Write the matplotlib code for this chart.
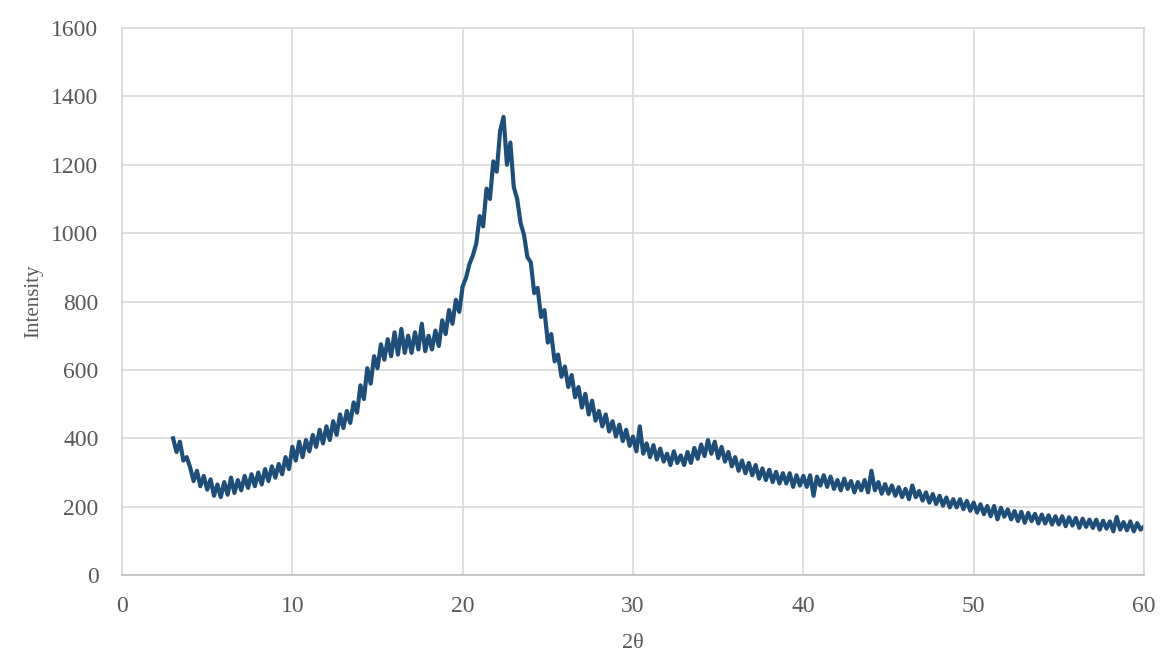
import matplotlib
matplotlib.use("Agg")
import matplotlib.pyplot as plt

# scan angles (2theta), 0.2 deg step
two_theta = [
    3.0, 3.2, 3.4, 3.6, 3.8, 4.0, 4.2, 4.4, 4.6, 4.8,
    5.0, 5.2, 5.4, 5.6, 5.8, 6.0, 6.2, 6.4, 6.6, 6.8,
    7.0, 7.2, 7.4, 7.6, 7.8, 8.0, 8.2, 8.4, 8.6, 8.8,
    9.0, 9.2, 9.4, 9.6, 9.8, 10.0, 10.2, 10.4, 10.6, 10.8,
    11.0, 11.2, 11.4, 11.6, 11.8, 12.0, 12.2, 12.4, 12.6, 12.8,
    13.0, 13.2, 13.4, 13.6, 13.8, 14.0, 14.2, 14.4, 14.6, 14.8,
    15.0, 15.2, 15.4, 15.6, 15.8, 16.0, 16.2, 16.4, 16.6, 16.8,
    17.0, 17.2, 17.4, 17.6, 17.8, 18.0, 18.2, 18.4, 18.6, 18.8,
    19.0, 19.2, 19.4, 19.6, 19.8, 20.0, 20.2, 20.4, 20.6, 20.8,
    21.0, 21.2, 21.4, 21.6, 21.8, 22.0, 22.2, 22.4, 22.6, 22.8,
    23.0, 23.2, 23.4, 23.6, 23.8, 24.0, 24.2, 24.4, 24.6, 24.8,
    25.0, 25.2, 25.4, 25.6, 25.8, 26.0, 26.2, 26.4, 26.6, 26.8,
    27.0, 27.2, 27.4, 27.6, 27.8, 28.0, 28.2, 28.4, 28.6, 28.8,
    29.0, 29.2, 29.4, 29.6, 29.8, 30.0, 30.2, 30.4, 30.6, 30.8,
    31.0, 31.2, 31.4, 31.6, 31.8, 32.0, 32.2, 32.4, 32.6, 32.8,
    33.0, 33.2, 33.4, 33.6, 33.8, 34.0, 34.2, 34.4, 34.6, 34.8,
    35.0, 35.2, 35.4, 35.6, 35.8, 36.0, 36.2, 36.4, 36.6, 36.8,
    37.0, 37.2, 37.4, 37.6, 37.8, 38.0, 38.2, 38.4, 38.6, 38.8,
    39.0, 39.2, 39.4, 39.6, 39.8, 40.0, 40.2, 40.4, 40.6, 40.8,
    41.0, 41.2, 41.4, 41.6, 41.8, 42.0, 42.2, 42.4, 42.6, 42.8,
    43.0, 43.2, 43.4, 43.6, 43.8, 44.0, 44.2, 44.4, 44.6, 44.8,
    45.0, 45.2, 45.4, 45.6, 45.8, 46.0, 46.2, 46.4, 46.6, 46.8,
    47.0, 47.2, 47.4, 47.6, 47.8, 48.0, 48.2, 48.4, 48.6, 48.8,
    49.0, 49.2, 49.4, 49.6, 49.8, 50.0, 50.2, 50.4, 50.6, 50.8,
    51.0, 51.2, 51.4, 51.6, 51.8, 52.0, 52.2, 52.4, 52.6, 52.8,
    53.0, 53.2, 53.4, 53.6, 53.8, 54.0, 54.2, 54.4, 54.6, 54.8,
    55.0, 55.2, 55.4, 55.6, 55.8, 56.0, 56.2, 56.4, 56.6, 56.8,
    57.0, 57.2, 57.4, 57.6, 57.8, 58.0, 58.2, 58.4, 58.6, 58.8,
    59.0, 59.2, 59.4, 59.6, 59.8, 60.0,
]

# intensity
intensity = [
    400, 360, 390, 335, 345, 315, 275, 305, 260, 290,
    250, 280, 232, 265, 228, 272, 235, 285, 240, 278,
    248, 290, 255, 295, 260, 300, 265, 310, 275, 318,
    285, 325, 295, 345, 310, 375, 335, 390, 345, 395,
    362, 410, 375, 425, 385, 435, 395, 450, 410, 470,
    430, 480, 445, 505, 475, 555, 515, 605, 560, 640,
    605, 675, 630, 690, 640, 710, 645, 720, 650, 700,
    650, 710, 660, 735, 655, 700, 660, 715, 670, 745,
    705, 775, 735, 805, 770, 845, 870, 910, 935, 970,
    1050, 1020, 1130, 1100, 1210, 1180, 1300, 1340, 1200, 1265,
    1135, 1100, 1030, 995, 930, 915, 825, 840, 755, 775,
    680, 705, 625, 645, 580, 610, 550, 585, 520, 550,
    490, 530, 470, 510, 452, 480, 435, 470, 420, 450,
    405, 440, 392, 425, 378, 405, 362, 435, 355, 385,
    345, 380, 338, 370, 332, 355, 322, 362, 328, 350,
    322, 360, 328, 372, 340, 382, 348, 395, 355, 390,
    342, 375, 332, 360, 318, 345, 305, 335, 298, 328,
    292, 322, 282, 312, 278, 308, 272, 302, 268, 298,
    268, 298, 258, 292, 262, 290, 258, 292, 232, 288,
    262, 292, 258, 288, 252, 278, 248, 282, 252, 275,
    242, 272, 248, 278, 242, 305, 248, 272, 238, 266,
    238, 262, 232, 257, 228, 252, 222, 262, 228, 246,
    218, 242, 212, 237, 208, 232, 203, 227, 198, 222,
    198, 222, 193, 217, 188, 212, 183, 207, 178, 202,
    172, 202, 163, 197, 171, 192, 163, 187, 158, 185,
    153, 182, 158, 179, 151, 177, 151, 175, 148, 172,
    148, 172, 143, 169, 145, 167, 138, 165, 141, 162,
    138, 162, 133, 159, 136, 157, 128, 170, 133, 155,
    131, 157, 128, 152, 133, 142,
]

x_ticks = [0, 10, 20, 30, 40, 50, 60]
y_ticks = [0, 200, 400, 600, 800, 1000, 1200, 1400, 1600]

plt.rcParams['font.family'] = ['Liberation Serif', 'DejaVu Serif']
text_color = '#595959'
grid_color = '#d9d9d9'

fig = plt.figure(figsize=(11.62, 6.58), dpi=100)
ax = fig.add_axes([0.105, 0.126, 0.8795, 0.8314])

ax.plot(two_theta, intensity, color='#1f4e79', linewidth=3.0)

ax.set_xlim(0, 60)
ax.set_ylim(0, 1600)
ax.set_xticks(x_ticks)
ax.set_yticks(y_ticks)
ax.grid(True, color=grid_color, linewidth=1.2)
ax.set_axisbelow(True)
for s in ax.spines.values():
    s.set_color(grid_color)
    s.set_linewidth(1.2)
ax.spines['bottom'].set_color('#bfbfbf')
ax.tick_params(length=0, labelsize=17, colors=text_color)
ax.tick_params(axis='x', pad=15)
ax.tick_params(axis='y', pad=17)
ax.set_xlabel('2θ', fontsize=16, color=text_color, labelpad=12)
ax.set_ylabel('Intensity', fontsize=15, color=text_color, labelpad=6)

fig.savefig('out.png', dpi=100)
